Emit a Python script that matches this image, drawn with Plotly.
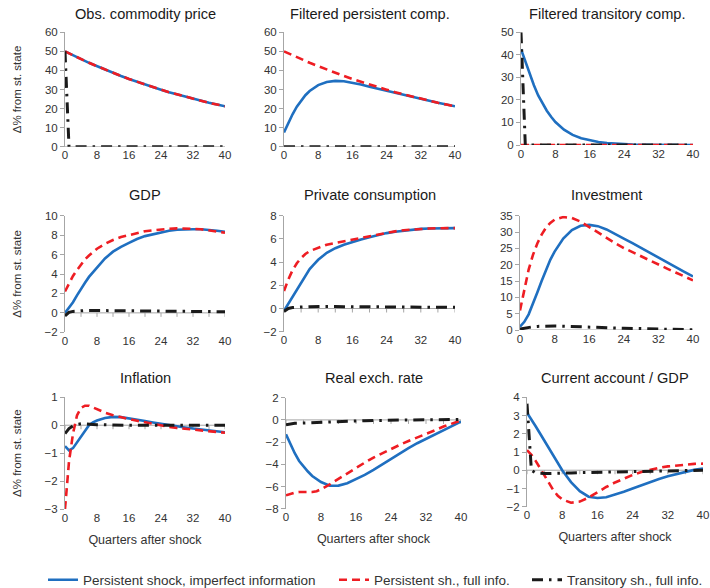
import plotly.graph_objects as go

W, H = 710, 588

QUARTERS = [0, 1, 2, 3, 4, 5, 6, 7, 8, 10, 12, 14, 16, 18, 20, 22, 24, 26, 28, 30, 32, 34, 36, 38, 40]
X_TICKS = [0, 8, 16, 24, 32, 40]
X_MINOR = [0, 4, 8, 12, 16, 20, 24, 28, 32, 36, 40]

TITLES = ["Obs. commodity price", "Filtered persistent comp.", "Filtered transitory comp.",
          "GDP", "Private consumption", "Investment",
          "Inflation", "Real exch. rate", "Current account / GDP"]

SERIES_NAMES = ["Persistent shock, imperfect information", "Persistent sh., full info.",
                "Transitory sh., full info."]

# Obs. commodity price
obs_imperf = [50, 48.95, 47.9, 46.9, 45.9, 45.0, 44.0, 43.1, 42.2, 40.4, 38.7, 37.1, 35.5, 34.0, 32.6, 31.2, 29.9, 28.6, 27.4, 26.2, 25.1, 24.1, 23.0, 22.1, 21.2]
obs_full = [50, 48.95, 47.9, 46.9, 45.9, 45.0, 44.0, 43.1, 42.2, 40.4, 38.7, 37.1, 35.5, 34.0, 32.6, 31.2, 29.9, 28.6, 27.4, 26.2, 25.1, 24.1, 23.0, 22.1, 21.2]
obs_trans = [50] + [0] * 24

# Filtered persistent component
fpers_imperf = [7.5, 12.5, 17, 21, 24.3, 27, 29.2, 31, 32.3, 33.9, 34.5, 34.3, 33.6, 32.6, 31.5, 30.5, 29.5, 28.4, 27.3, 26.2, 25.1, 24.1, 23.0, 22.1, 21.2]
fpers_full = [50, 48.95, 47.9, 46.9, 45.9, 45.0, 44.0, 43.1, 42.2, 40.4, 38.7, 37.1, 35.5, 34.0, 32.6, 31.2, 29.9, 28.6, 27.4, 26.2, 25.1, 24.1, 23.0, 22.1, 21.2]
fpers_trans = [0] * 25

# Filtered transitory component
ftrans_imperf = [42.5, 37, 31.5, 26.5, 22, 18.3, 15.2, 12.5, 10.2, 6.8, 4.5, 3.0, 2.0, 1.3, 0.85, 0.55, 0.35, 0.22, 0.14, 0.09, 0.06, 0.04, 0.02, 0.01, 0.01]
ftrans_full = [0] * 25
ftrans_trans = [50] + [0] * 24

# GDP
gdp_imperf = [0, 0.5, 1.1, 1.8, 2.5, 3.1, 3.7, 4.2, 4.7, 5.6, 6.3, 6.8, 7.2, 7.6, 7.9, 8.1, 8.3, 8.45, 8.55, 8.6, 8.6, 8.6, 8.55, 8.45, 8.35]
gdp_full = [2.2, 3.0, 3.8, 4.4, 5.0, 5.5, 5.9, 6.3, 6.6, 7.1, 7.5, 7.8, 8.0, 8.2, 8.4, 8.5, 8.6, 8.65, 8.7, 8.7, 8.65, 8.6, 8.5, 8.4, 8.25]
gdp_trans = [-0.3, 0.05, 0.15, 0.2, 0.22, 0.24, 0.25, 0.25, 0.25, 0.25, 0.24, 0.23, 0.22, 0.21, 0.2, 0.19, 0.18, 0.17, 0.16, 0.15, 0.15, 0.14, 0.13, 0.12, 0.12]

# Private consumption
cons_imperf = [-0.2, 0.4, 1.0, 1.7, 2.3, 2.9, 3.4, 3.8, 4.2, 4.8, 5.2, 5.5, 5.75, 5.95, 6.15, 6.35, 6.5, 6.62, 6.72, 6.8, 6.86, 6.9, 6.92, 6.93, 6.93]
cons_full = [1.5, 2.5, 3.3, 3.9, 4.35, 4.7, 4.95, 5.1, 5.25, 5.5, 5.65, 5.8, 5.95, 6.1, 6.25, 6.4, 6.55, 6.65, 6.75, 6.82, 6.87, 6.9, 6.92, 6.93, 6.93]
cons_trans = [-0.25, 0.0, 0.08, 0.12, 0.14, 0.15, 0.16, 0.17, 0.17, 0.17, 0.17, 0.16, 0.16, 0.15, 0.15, 0.14, 0.14, 0.13, 0.13, 0.12, 0.12, 0.11, 0.11, 0.1, 0.1]

# Investment
inv_imperf = [1.0, 2.5, 4.8, 8.0, 11.5, 15.0, 18.5, 21.5, 24.0, 28.0, 30.6, 31.9, 32.2, 31.8, 30.8, 29.5, 28.0, 26.6, 25.1, 23.6, 22.2, 20.7, 19.2, 17.8, 16.4]
inv_full = [6.0, 12.5, 18.5, 23.0, 26.5, 29.2, 31.3, 32.8, 33.8, 34.6, 34.3, 33.2, 31.5, 29.8, 28.2, 26.6, 25.1, 23.8, 22.5, 21.2, 20.0, 18.8, 17.6, 16.4, 15.2]
inv_trans = [0.3, 0.6, 0.85, 1.0, 1.1, 1.15, 1.2, 1.2, 1.2, 1.15, 1.1, 1.0, 0.9, 0.8, 0.7, 0.62, 0.55, 0.47, 0.4, 0.34, 0.3, 0.22, 0.15, 0.1, 0.05]

# Inflation
infl_imperf = [-0.75, -0.9, -0.82, -0.62, -0.4, -0.18, 0.0, 0.1, 0.17, 0.26, 0.3, 0.29, 0.25, 0.2, 0.15, 0.1, 0.05, 0.0, -0.04, -0.08, -0.12, -0.15, -0.18, -0.21, -0.25]
infl_full = [-3.0, -1.3, -0.3, 0.35, 0.62, 0.7, 0.7, 0.64, 0.57, 0.45, 0.36, 0.28, 0.22, 0.16, 0.1, 0.04, -0.02, -0.06, -0.1, -0.13, -0.16, -0.19, -0.22, -0.25, -0.27]
infl_trans = [-0.3, -0.12, -0.02, 0.03, 0.05, 0.05, 0.04, 0.03, 0.02, 0.01] + [0] * 15

# Real exchange rate
rer_imperf = [-1.3, -2.2, -3.0, -3.7, -4.2, -4.65, -5.05, -5.35, -5.6, -5.93, -5.92, -5.7, -5.35, -4.95, -4.5, -4.0, -3.5, -3.0, -2.55, -2.1, -1.7, -1.3, -0.9, -0.5, -0.15]
rer_full = [-6.8, -6.65, -6.55, -6.5, -6.5, -6.52, -6.5, -6.42, -6.25, -5.8, -5.3, -4.8, -4.3, -3.85, -3.4, -3.0, -2.6, -2.25, -1.9, -1.6, -1.3, -0.95, -0.6, -0.3, -0.05]
rer_trans = [-0.45, -0.35, -0.3, -0.29, -0.28, -0.27, -0.25, -0.24, -0.22, -0.19, -0.15, -0.12, -0.1, -0.07, -0.05, -0.03, -0.02, -0.01, 0.0, 0.01, 0.02, 0.02, 0.03, 0.03, 0.03]

# Current account / GDP
ca_imperf = [3.15, 2.8, 2.4, 2.0, 1.6, 1.2, 0.8, 0.38, 0.0, -0.65, -1.15, -1.45, -1.52, -1.48, -1.35, -1.18, -1.0, -0.82, -0.65, -0.48, -0.33, -0.2, -0.08, 0.02, 0.1]
ca_full = [1.1, 0.85, 0.5, 0.1, -0.35, -0.75, -1.1, -1.4, -1.6, -1.78, -1.72, -1.5, -1.2, -0.92, -0.67, -0.45, -0.26, -0.1, 0.03, 0.13, 0.21, 0.27, 0.32, 0.35, 0.36]
ca_trans = [3.65, 0.0, -0.15, -0.18, -0.18, -0.18, -0.18, -0.17, -0.17, -0.15, -0.13, -0.12, -0.1, -0.09, -0.08, -0.07, -0.05, -0.04, -0.03, -0.02, -0.02, -0.01, -0.01, 0.0, 0.0]

PANEL_DATA = [
    (obs_imperf, obs_full, obs_trans),
    (fpers_imperf, fpers_full, fpers_trans),
    (ftrans_imperf, ftrans_full, ftrans_trans),
    (gdp_imperf, gdp_full, gdp_trans),
    (cons_imperf, cons_full, cons_trans),
    (inv_imperf, inv_full, inv_trans),
    (infl_imperf, infl_full, infl_trans),
    (rer_imperf, rer_full, rer_trans),
    (ca_imperf, ca_full, ca_trans),
]

Y_RANGES = [(0, 60, 10), (0, 60, 10), (0, 50, 10),
            (-2, 10, 2), (-2, 8, 2), (0, 35, 5),
            (-3, 1, 1), (-8, 2, 2), (-2, 4, 1)]

# plot-area boxes in pixels: (left, right, top, bottom)
BOXES = [(65, 225, 32.3, 146.7), (284, 455, 32.3, 146.7), (521, 693, 32.3, 145),
         (65, 225, 215.7, 332.3), (284, 455, 215.7, 331.7), (520, 693, 215.7, 330),
         (65, 225, 397.3, 509), (286, 461, 397.7, 508.7), (527, 703, 397.3, 506.7)]
TITLE_Y = [14, 195, 378]
LEGEND_X = [43, 334, 527]   # left edge (px) of each legend entry
LEGEND_Y = 580

COLORS = ["#1F6FC0", "#EE1D23", "#1A1A1A"]
DASHES = ["solid", "8px,5px", "11px,6px,2.5px,6px"]
WIDTHS = [2.6, 2.6, 3.0]
AXIS_COLOR = "#A6A6A6"
TEXT_COLOR = "#333333"
FONT = "Liberation Sans, Arial, sans-serif"
LEGEND_IDS = ["legend", "legend2", "legend3"]

fig = go.Figure()
layout = {}
shapes = []
annotations = []

for i, (data, yr, box) in enumerate(zip(PANEL_DATA, Y_RANGES, BOXES)):
    n = i + 1
    xa = "x" if n == 1 else f"x{n}"
    ya = "y" if n == 1 else f"y{n}"
    l, r, t, b = box
    for k in range(3):
        fig.add_trace(go.Scatter(
            x=QUARTERS, y=data[k], mode="lines", xaxis=xa, yaxis=ya,
            name=SERIES_NAMES[k], showlegend=(n == 1), legend=LEGEND_IDS[k],
            line=dict(color=COLORS[k], width=WIDTHS[k], dash=DASHES[k]),
            hoverinfo="skip",
        ))
    ymin, ymax, dt = yr
    layout[f"xaxis{'' if n == 1 else n}"] = dict(
        domain=[l / W, r / W], anchor=ya, range=[0, 40], automargin=False,
        tickvals=X_TICKS, ticks="", showline=False, showgrid=False, zeroline=False,
        tickfont=dict(size=11.5, color=TEXT_COLOR, family=FONT), ticklen=0,
        title=dict(text="Quarters after shock" if n >= 7 else "",
                   font=dict(size=12.5, color=TEXT_COLOR, family=FONT), standoff=12),
    )
    layout[f"yaxis{'' if n == 1 else n}"] = dict(
        domain=[1 - b / H, 1 - t / H], anchor=xa, range=[ymin, ymax], dtick=dt,
        automargin=False,
        showline=True, linecolor=AXIS_COLOR, linewidth=1,
        ticks="outside", ticklen=4, tickcolor=AXIS_COLOR, tickwidth=1,
        showgrid=False, zeroline=False,
        tickfont=dict(size=11.5, color=TEXT_COLOR, family=FONT),
        title=dict(text="Δ% from st. state" if n in (1, 4, 7) else "",
                   font=dict(size=11.5, color=TEXT_COLOR, family=FONT), standoff=20),
    )
    # horizontal axis line at y = 0 with tick marks
    shapes.append(dict(type="line", xref=xa, yref=ya, x0=0, x1=40, y0=0, y1=0,
                       line=dict(color=AXIS_COLOR, width=1), layer="below"))
    for tv in X_MINOR:
        shapes.append(dict(type="line", xref=xa, yref=ya, x0=tv, x1=tv,
                           ysizemode="pixel", yanchor=0, y0=0, y1=-4,
                           line=dict(color=AXIS_COLOR, width=1), layer="below"))
    annotations.append(dict(
        text=TITLES[i], xref="paper", yref="paper",
        x=(l + r) / 2 / W, y=1 - TITLE_Y[i // 3] / H,
        xanchor="center", yanchor="middle", showarrow=False,
        font=dict(size=14.6, color="#1A1A1A", family=FONT),
    ))

for k, lid in enumerate(LEGEND_IDS):
    layout[lid] = dict(orientation="h", x=LEGEND_X[k] / W, xanchor="left",
                       y=1 - LEGEND_Y / H, yanchor="middle",
                       font=dict(size=13.5, color=TEXT_COLOR, family=FONT),
                       itemwidth=30, bgcolor="rgba(0,0,0,0)")

fig.update_layout(
    width=W, height=H,
    margin=dict(l=0, r=0, t=0, b=0, autoexpand=False),
    paper_bgcolor="white", plot_bgcolor="white",
    shapes=shapes, annotations=annotations,
    **layout,
)

fig.write_html("out.html", config={"displayModeBar": False},
               post_script="document.body.style.margin='0';")
